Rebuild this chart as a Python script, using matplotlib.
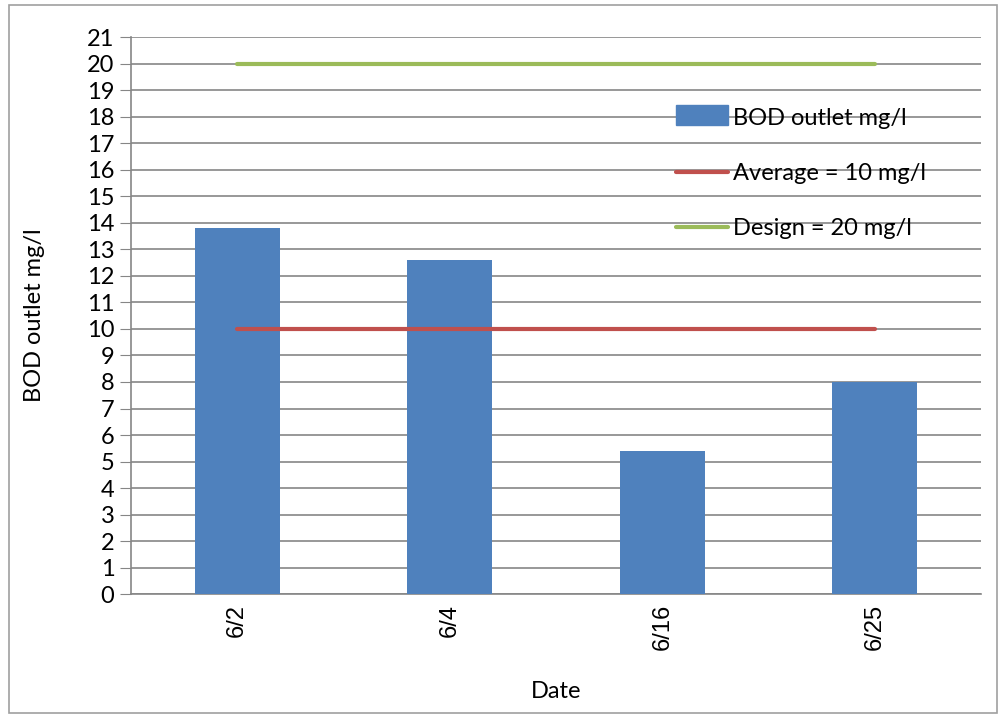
import matplotlib
matplotlib.use("Agg")
import matplotlib.pyplot as plt
import matplotlib.patches as mpatches
import matplotlib.lines as mlines

dates = ["6/2", "6/4", "6/16", "6/25"]
bod = [13.8, 12.6, 5.4, 8.0]
average = [10, 10, 10, 10]
design = [20, 20, 20, 20]

plt.rcParams['font.family'] = ['Lato', 'DejaVu Sans']

fig = plt.figure(figsize=(10, 7.15), dpi=100)
ax = fig.add_axes([0.131, 0.169, 0.85, 0.779])

grid_c = '#868686'
x = list(range(len(dates)))

ax.bar(x, bod, width=0.4, color='#4F81BD', zorder=3, label='BOD outlet mg/l')
ax.plot(x, average, color='#C0504D', lw=3, solid_capstyle='round', zorder=4,
        label='Average = 10 mg/l')
ax.plot(x, design, color='#9BBB59', lw=3, solid_capstyle='round', zorder=4,
        label='Design = 20 mg/l')

ax.set_xlim(-0.5, 3.5)
ax.set_ylim(0, 21)
ax.set_yticks(range(0, 22))
ax.set_xticks(x)
ax.set_xticklabels(dates, rotation=90, family='Liberation Sans', fontsize=17)
ax.tick_params(axis='x', length=0, pad=7)
ax.tick_params(axis='y', length=8, color=grid_c, labelsize=17, pad=4)
ax.yaxis.grid(True, color=grid_c, lw=1.2, zorder=0)
ax.set_axisbelow(True)

for s in ['top', 'right']:
    ax.spines[s].set_visible(False)
for s in ['left', 'bottom']:
    ax.spines[s].set_color(grid_c)
    ax.spines[s].set_linewidth(1.2)

ax.set_ylabel('BOD outlet mg/l', fontsize=17, labelpad=30)
ax.set_xlabel('Date', fontsize=17, labelpad=22)

handles = [mpatches.Patch(color='#4F81BD'),
           mlines.Line2D([], [], color='#C0504D', lw=3, solid_capstyle='round'),
           mlines.Line2D([], [], color='#9BBB59', lw=3, solid_capstyle='round')]
labels = ['BOD outlet mg/l', 'Average = 10 mg/l', 'Design = 20 mg/l']
leg = ax.legend(handles, labels, loc='upper left', bbox_to_anchor=(0.630, 0.89),
                frameon=False, fontsize=17, labelspacing=1.45, handlelength=2.2,
                handletextpad=0.2, borderaxespad=0)
for h in leg.legend_handles:
    if isinstance(h, mpatches.Rectangle):
        h.set_height(14)

fig.patches.append(mpatches.Rectangle((0.009, 0.003), 0.988, 0.99, transform=fig.transFigure,
                                      fill=False, edgecolor='#a0a0a0', lw=1.2))

fig.savefig('out.png', dpi=100)
